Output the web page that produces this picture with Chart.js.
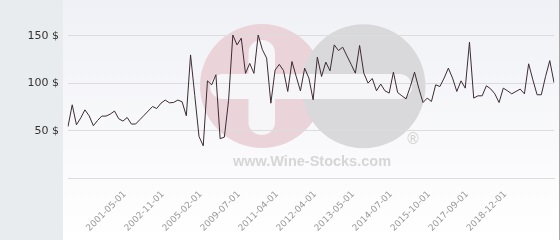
<!DOCTYPE html>
<html><head><meta charset="utf-8">
<script src="https://cdn.jsdelivr.net/npm/chart.js@4/dist/chart.umd.min.js"></script>
<style>html,body{margin:0;padding:0;background:#fff;overflow:hidden}#wrap{width:560px;height:240px}</style>
</head><body><div id="wrap"><canvas id="c" width="560" height="240"></canvas></div>
<script>
const tickLabels = ['2001-05-01','2002-11-01','2005-02-01','2009-07-01','2011-04-01','2012-04-01','2013-05-01','2014-07-01','2015-10-01','2017-09-01','2018-12-01'];
const firstLabelIndex = 13;
const labelStep = 9;
const prices = [
 54.4,77.3,56.2,63.3,72,65.7,55.2,60.8,65.4,65.4,
 67.5,70.7,62.6,60.1,63.9,57,57,61.6,66.2,70.8,
 75.5,73.4,79,82.3,79.4,79.8,82.3,80.5,65.7,130,
 87,43.9,34,102.6,98.4,109,41.5,43.2,82,151,
 140.6,147.7,110.5,121,110.5,151,135.5,126.6,79,114,
 120,113.5,91.4,123,107.2,92,116,105.5,82.6,127.6,
 107.2,122.4,113.2,140.6,134.6,138.2,129,120,110.7,140,
 110.7,100.2,105.1,92.1,99.2,92.1,89.7,111.8,90.3,86.8,
 83.6,96.6,111.8,94.9,79.7,84.4,80.8,98.4,96.6,105.5,
 116,105.5,91.4,102.6,94.9,143.5,84.4,86.8,86.8,97.4,
 94.2,88.9,79.7,94.9,92.1,88.9,91.4,93.9,88.9,120.6,
 103.7,87.9,87.9,107.2,124,100.8
];
const yTicks = [50,100,150];

const categories = prices.map((_, i) => {
  const k = (i - firstLabelIndex) / labelStep;
  return (k >= 0 && Number.isInteger(k) && k < tickLabels.length) ? tickLabels[k] : '';
});

const bgPlugin = {
  id: 'bg',
  beforeDraw(chart) {
    const ctx = chart.ctx;
    ctx.save();
    ctx.fillStyle = '#e9ecef';
    ctx.fillRect(0, 0, 63, 240);
    const g = ctx.createLinearGradient(0, 0, 0, 240);
    g.addColorStop(0, '#f0f1f6');
    g.addColorStop(1, '#ffffff');
    ctx.fillStyle = g;
    ctx.fillRect(63, 0, 496, 240);
    ctx.fillStyle = '#a9a9a9';
    ctx.fillRect(559, 0, 1, 240);
    // watermark
    ctx.fillStyle = '#ebd3da';
    ctx.beginPath(); ctx.arc(262, 86, 62, 0, Math.PI * 2); ctx.fill();
    ctx.fillStyle = '#d9d9db';
    ctx.beginPath(); ctx.arc(363.5, 86.3, 62, 0, Math.PI * 2); ctx.fill();
    ctx.fillStyle = '#f6f6f9';
    ctx.beginPath(); ctx.roundRect(210, 74, 202, 25, 12.5); ctx.fill();
    ctx.beginPath(); ctx.roundRect(248.5, 40, 26.5, 95, 13); ctx.fill();
    ctx.fillStyle = '#d2d2d2';
    ctx.font = '15px "DejaVu Sans"';
    ctx.textAlign = 'center'; ctx.textBaseline = 'middle';
    ctx.fillText('\u00AE', 413, 140);
    ctx.fillStyle = '#d6d6d6';
    ctx.font = 'bold 14.5px "Liberation Sans"';
    ctx.textBaseline = 'alphabetic';
    ctx.fillText('www.Wine-Stocks.com', 312, 166);
    ctx.restore();
  }
};

new Chart(document.getElementById('c'), {
  type: 'line',
  data: {
    labels: categories,
    datasets: [{
      data: prices,
      borderColor: '#3d2b33',
      borderWidth: 1,
      pointRadius: 0,
      tension: 0,
      fill: false
    }]
  },
  options: {
    responsive: false,
    animation: false,
    devicePixelRatio: 1,
    layout: { padding: { left: 0, right: 6, top: 0, bottom: 0 } },
    plugins: { legend: { display: false }, tooltip: { enabled: false } },
    scales: {
      x: {
        type: 'category',
        offset: false,
        grid: { display: false, drawTicks: false },
        border: { display: true, color: '#dcdcdc' },
        ticks: {
          autoSkip: false, maxRotation: 45, minRotation: 45, padding: 11, labelOffset: 2,
          color: '#999999', font: { family: 'DejaVu Sans', size: 9 }
        },
        afterFit(s) { s.height = 62; s.paddingLeft = 0; s.paddingRight = 0; s.paddingTop = 0; s.paddingBottom = 0; }
      },
      y: {
        min: 0, max: 188,
        afterBuildTicks(s) { s.ticks = yTicks.map(v => ({ value: v })); },
        grid: { color: '#dcdcdc', drawTicks: false },
        border: { display: false },
        ticks: {
          padding: 9, color: '#333333',
          font: { family: 'DejaVu Sans', size: 11 },
          callback: v => v + ' $'
        },
        afterFit(s) { s.width = 68; s.paddingTop = 0; s.paddingBottom = 0; s.paddingLeft = 0; s.paddingRight = 0; }
      }
    }
  },
  plugins: [bgPlugin]
});
</script>
</body></html>
